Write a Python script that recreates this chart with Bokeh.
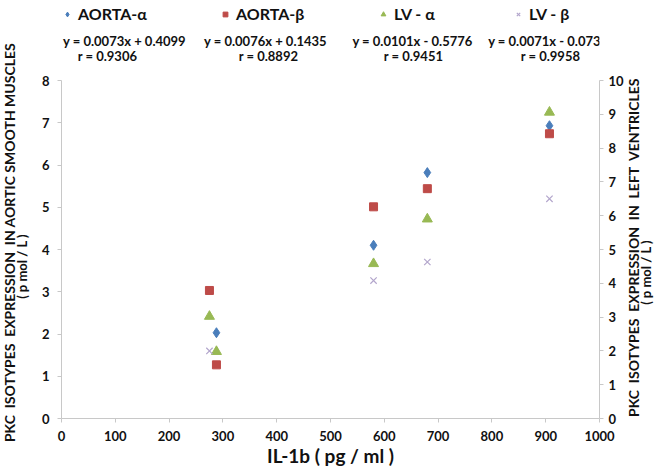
import math
from bokeh.plotting import figure
from bokeh.layouts import row, column
from bokeh.models import Range1d, LinearAxis, FixedTicker, Legend, LegendItem, Label
from bokeh.embed import file_html
from bokeh.resources import INLINE

# ---- data ----
aorta_a_x = [288, 580, 680, 907]
aorta_a_y = [2.03, 4.10, 5.82, 6.93]
aorta_b_x = [275, 288, 580, 680, 907]
aorta_b_y = [3.03, 1.27, 5.01, 5.44, 6.74]
lv_a_x = [275, 288, 580, 680, 907]
lv_a_y = [3.02, 1.98, 4.58, 5.90, 9.06]
lv_b_x = [275, 580, 680, 907]
lv_b_y = [2.00, 4.08, 4.63, 6.50]

series_names = ["AORTA-\u03b1", "AORTA-\u03b2", "LV - \u03b1", "LV - \u03b2"]
equations = ["y = 0.0073x + 0.4099", "y = 0.0076x + 0.1435",
             "y = 0.0101x - 0.5776", "y = 0.0071x - 0.073"]
r_values = ["r = 0.9306", "r = 0.8892", "r = 0.9451", "r = 0.9958"]

x_ticks = [0, 100, 200, 300, 400, 500, 600, 700, 800, 900, 1000]
left_ticks = [0, 1, 2, 3, 4, 5, 6, 7, 8]
right_ticks = [0, 1, 2, 3, 4, 5, 6, 7, 8, 9, 10]

left_title = ["PKC\u00a0 ISOTYPES\u00a0 EXPRESSION\u00a0 IN AORTIC SMOOTH MUSCLES", "( p mol / L )"]
right_title = ["PKC\u00a0 ISOTYPES\u00a0 EXPRESSION\u00a0 IN\u00a0 LEFT\u00a0 VENTRICLES", "( p mol / L )"]
x_title = "IL-1b ( pg / ml )"

FONT = "Lato"
TXT = "#111111"
AX_COLOR = "#C8C8C8"
C_BLUE = "#4A7EBB"
C_RED = "#BE4B48"
C_GREEN = "#98B954"
C_PURPLE = "#B3A6CC"
STYLES = [dict(marker="diamond", size=10, color=C_BLUE),
          dict(marker="square", size=8, color=C_RED),
          dict(marker="triangle", size=10, color=C_GREEN),
          dict(marker="x", size=9, line_color=C_PURPLE, line_width=1.2)]
SERIES = [(aorta_a_x, aorta_a_y, "default"), (aorta_b_x, aorta_b_y, "default"),
          (lv_a_x, lv_a_y, "lv"), (lv_b_x, lv_b_y, "lv")]

# ---- layout sizes (px) ----
TOTAL_W, TOTAL_H = 666, 473
LSTRIP_W, RSTRIP_W = 38, 40
MAIN_W = TOTAL_W - LSTRIP_W - RSTRIP_W
HEAD_H = 66
MAIN_H = TOTAL_H - HEAD_H


def blank(w, h):
    f = figure(width=w, height=h, output_backend="svg", toolbar_location=None, title=None,
               x_axis_location=None, y_axis_location=None,
               x_range=Range1d(0, 1), y_range=Range1d(0, 1),
               min_border=0, min_border_left=0, min_border_right=0,
               min_border_top=0, min_border_bottom=0)
    f.outline_line_color = None
    f.xgrid.visible = False
    f.ygrid.visible = False
    f.background_fill_color = "white"
    f.border_fill_color = "white"
    return f


def text_label(f, x, y, text, size, angle=0.0):
    f.add_layout(Label(x=x, y=y, x_units="screen", y_units="screen", text=text, angle=angle,
                       text_align="center", text_baseline="middle", text_font=FONT,
                       text_font_style="bold", text_font_size=size, text_color=TXT))


# ---- main plot ----
p = figure(width=MAIN_W, height=MAIN_H, output_backend="svg", toolbar_location=None, title=None,
           x_range=Range1d(0, 1000), y_range=Range1d(0, 8),
           min_border_left=23, min_border_right=26, min_border_top=14, min_border_bottom=55)
p.extra_y_ranges = {"lv": Range1d(0, 10)}
p.xgrid.visible = False
p.ygrid.visible = False
p.outline_line_color = None
p.background_fill_color = "white"
p.border_fill_color = "white"


def style_axis(ax, ticks, standoff):
    ax.ticker = FixedTicker(ticks=ticks)
    ax.axis_line_color = AX_COLOR
    ax.major_tick_line_color = AX_COLOR
    ax.minor_tick_line_color = None
    ax.major_tick_in = 0
    ax.major_tick_out = 4
    ax.major_label_text_font = FONT
    ax.major_label_text_font_style = "bold"
    ax.major_label_text_font_size = "13px"
    ax.major_label_text_color = TXT
    ax.major_label_standoff = standoff


style_axis(p.xaxis[0], x_ticks, 8)
xa = p.xaxis[0]
xa.axis_label = x_title
xa.axis_label_text_font = FONT
xa.axis_label_text_font_style = "bold"
xa.axis_label_text_font_size = "19px"
xa.axis_label_text_color = TXT
xa.axis_label_text_line_height = 1.0
xa.axis_label_standoff = 0
style_axis(p.yaxis[0], left_ticks, 8)
right_axis = LinearAxis(y_range_name="lv")
style_axis(right_axis, right_ticks, 5)
p.add_layout(right_axis, "right")

for (xs, ys, yr), st in zip(SERIES, STYLES):
    p.scatter(xs, ys, y_range_name=yr, **st)

# ---- header: equations, r values, legend keys ----
# (the column aligns the header's frame with the main frame, so x is measured
#  from the main plot's left frame edge)
head = blank(MAIN_W, HEAD_H)
eq_x = [63, 204, 351, 483]
r_x = [46, 207, 352, 489]
for t, x in zip(equations, eq_x):
    text_label(head, x, HEAD_H - 40, t, "13px")
for t, x in zip(r_values, r_x):
    text_label(head, x, HEAD_H - 55, t, "13px")

# the header's own 0..1 ranges keep these key renderers' points out of view;
# they only supply the legend glyphs
leg_x = [0, 158, 316, 451]
for name, (xs, ys, _), st, lx in zip(series_names, SERIES, STYLES, leg_x):
    key = head.scatter(xs, ys, **st)
    head.add_layout(Legend(items=[LegendItem(label=name, renderers=[key])],
                           location=(lx, HEAD_H - 23), padding=0, margin=0, spacing=0,
                           glyph_width=12, glyph_height=16, label_standoff=5, label_height=16,
                           label_text_font=FONT, label_text_font_style="bold",
                           label_text_font_size="16px", label_text_color=TXT,
                           border_line_alpha=0, background_fill_alpha=0, level="overlay"))

# ---- side strips with the y titles ----
lstrip = blank(LSTRIP_W, TOTAL_H)
text_label(lstrip, 9, TOTAL_H - 242, left_title[0], "14px", math.pi / 2)
text_label(lstrip, 21, TOTAL_H - 266, left_title[1], "13px", math.pi / 2)
rstrip = blank(RSTRIP_W, TOTAL_H)
text_label(rstrip, 7, TOTAL_H - 247, right_title[0], "14px", math.pi / 2)
text_label(rstrip, 19, TOTAL_H - 272, right_title[1], "13px", math.pi / 2)

layout = row(lstrip, column(head, p, spacing=0), rstrip, spacing=0)
open("out.html", "w").write(file_html(layout, INLINE))
